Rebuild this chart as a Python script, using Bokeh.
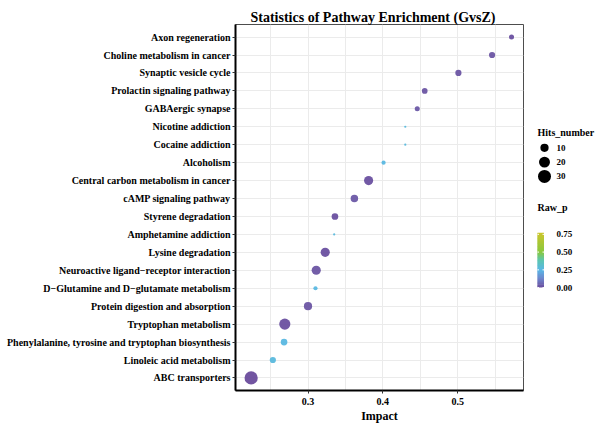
import numpy as np
from bokeh.plotting import figure
from bokeh.models import FactorRange, Range1d, FixedTicker, ColumnDataSource, LinearColorMapper
from bokeh.layouts import row
from bokeh.transform import transform
from bokeh.core.properties import value
from bokeh.embed import file_html
from bokeh.resources import INLINE

# ---------------- data (top to bottom as in the chart) ----------------
pathways = [
    "Axon regeneration",
    "Choline metabolism in cancer",
    "Synaptic vesicle cycle",
    "Prolactin signaling pathway",
    "GABAergic synapse",
    "Nicotine addiction",
    "Cocaine addiction",
    "Alcoholism",
    "Central carbon metabolism in cancer",
    "cAMP signaling pathway",
    "Styrene degradation",
    "Amphetamine addiction",
    "Lysine degradation",
    "Neuroactive ligand\u2212receptor interaction",
    "D\u2212Glutamine and D\u2212glutamate metabolism",
    "Protein digestion and absorption",
    "Tryptophan metabolism",
    "Phenylalanine, tyrosine and tryptophan biosynthesis",
    "Linoleic acid metabolism",
    "ABC transporters",
]
impact = [0.572, 0.546, 0.501, 0.456, 0.446, 0.430, 0.430, 0.401, 0.381, 0.362,
          0.336, 0.335, 0.323, 0.311, 0.310, 0.300, 0.269, 0.268, 0.253, 0.224]
hits = [3, 5, 5, 4, 3, 1, 1, 2, 13, 8,
        6, 1, 13, 13, 2, 10, 21, 6, 5, 31]
raw_p = [0.01, 0.02, 0.02, 0.02, 0.03, 0.27, 0.27, 0.26, 0.01, 0.03,
         0.01, 0.27, 0.01, 0.02, 0.26, 0.02, 0.01, 0.26, 0.27, 0.00]

x_ticks = [0.3, 0.4, 0.5]
x_minor_ticks = [0.25, 0.35, 0.45, 0.55]
hits_legend = [10, 20, 30]
p_ticks = [0.00, 0.25, 0.50, 0.75]
p_tick_labels = ["0.00", "0.25", "0.50", "0.75"]
title_text = "Statistics of Pathway Enrichment (GvsZ)"

P_LOW, P_HIGH = 0.0, 0.773
HITS_MIN, HITS_MAX = 1, 31

# ---------------- styles / layout constants ----------------
FONT = "Liberation Serif"
H = 425
FRAME_TOP, FRAME_BOTTOM = 24, 395
anchors = [(0.0, "#6A4C9C"), (0.16, "#6F86CC"), (0.32, "#5AB7E6"), (0.5, "#5CC6B0"),
           (0.645, "#88C840"), (1.0, "#CCC52C")]


def _rgb(h):
    return np.array([int(h[i:i + 2], 16) for i in (1, 3, 5)], float)


def make_palette(n=256):
    pos = np.array([a[0] for a in anchors])
    cols = np.array([_rgb(a[1]) for a in anchors])
    out = []
    for t in np.linspace(0, 1, n):
        c = [np.interp(t, pos, cols[:, k]) for k in range(3)]
        out.append("#%02x%02x%02x" % tuple(int(round(v)) for v in c))
    return out


palette = make_palette()
mapper = LinearColorMapper(palette=palette, low=P_LOW, high=P_HIGH)


def hits_to_px(h):
    h = np.asarray(h, float)
    return 2.2 * (1 + 5 * np.sqrt((h - HITS_MIN) / (HITS_MAX - HITS_MIN)))


src = ColumnDataSource(dict(pathway=pathways, impact=impact, hits=hits,
                            raw_p=raw_p, size=hits_to_px(hits)))

# ---------------- main figure ----------------
p = figure(width=524, height=H,
           y_range=FactorRange(factors=pathways[::-1], range_padding=0.2,
                               range_padding_units="absolute"),
           x_range=Range1d(0.2031, 0.588),
           output_backend="svg", toolbar_location=None,
           min_border_left=235, min_border_right=1,
           min_border_top=FRAME_TOP, min_border_bottom=H - FRAME_BOTTOM,
           title=title_text)
p.title.text_font = FONT
p.title.text_font_style = "bold"
p.title.text_font_size = "14px"
p.title.align = "left"
p.title.offset = 15
p.title.standoff = 0
p.title.text_color = "#000000"

p.background_fill_color = "white"
p.border_fill_color = "white"
p.outline_line_color = "#4D4D4D"
p.outline_line_width = 1

p.xaxis.ticker = FixedTicker(ticks=x_ticks, minor_ticks=x_minor_ticks)
p.xaxis.axis_label = "Impact"
p.xaxis.axis_label_text_font = FONT
p.xaxis.axis_label_text_font_style = "bold"
p.xaxis.axis_label_text_font_size = "12px"
p.xaxis.axis_label_text_color = "#000000"
p.xaxis.axis_label_standoff = 1
p.xaxis.major_label_text_font = FONT
p.xaxis.major_label_text_font_style = "bold"
p.xaxis.major_label_text_font_size = "10px"
p.xaxis.major_label_standoff = 3
p.xaxis.minor_tick_line_color = None

for ax in (p.xaxis, p.yaxis):
    ax.axis_line_color = "black"
    ax.axis_line_width = 2
    ax.major_tick_line_color = "#333333"
    ax.major_tick_out = 3
    ax.major_tick_in = 0
    ax.major_label_text_color = "#000000"

p.yaxis.major_label_text_font = FONT
p.yaxis.major_label_text_font_style = "bold"
p.yaxis.major_label_text_font_size = "10px"
p.yaxis.major_label_standoff = 2

p.xgrid.grid_line_color = "#EBEBEB"
p.xgrid.minor_grid_line_color = "#EBEBEB"
p.ygrid.grid_line_color = "#EBEBEB"

p.scatter(x="impact", y="pathway", size="size", source=src,
          fill_color=transform("raw_p", mapper), line_color=None, fill_alpha=0.95)

# ---------------- legend figure ----------------
lg = figure(width=76, height=H, x_range=Range1d(0, 76),
            y_range=Range1d(FRAME_BOTTOM, FRAME_TOP),
            output_backend="svg", toolbar_location=None,
            min_border_left=0, min_border_right=0,
            min_border_top=FRAME_TOP, min_border_bottom=H - FRAME_BOTTOM,
            x_axis_location=None, y_axis_location=None, outline_line_color=None)
lg.grid.visible = False
lg.background_fill_color = "white"
lg.border_fill_color = "white"

txt = dict(text_font=value(FONT), text_font_style="bold", text_baseline="middle",
           text_align="left", text_color="#000000")
lg.text(x=[13], y=[133], text=["Hits_number"], text_font_size="10px", **txt)
leg_y = [149, 163.5, 178]
lg.scatter(x=[20] * 3, y=leg_y, size=hits_to_px(hits_legend), fill_color="black",
           line_color=None)
lg.text(x=[32] * 3, y=leg_y, text=[str(h) for h in hits_legend], text_font_size="9px", **txt)

lg.text(x=[13], y=[210], text=["Raw_p"], text_font_size="10px", **txt)

# colour bar in its own value range: 0 at page y=290.7px, 72 px per unit
px_per_unit = 72.0
base_px = 290.7
lg.extra_y_ranges = {"cbar": Range1d(start=(base_px - FRAME_BOTTOM) / px_per_unit,
                                     end=(base_px - FRAME_TOP) / px_per_unit)}
steps = np.linspace(P_LOW, P_HIGH, 61)
step = steps[1] - steps[0]
cb = ColumnDataSource(dict(bottom=steps[:-1],
                           top=np.minimum(steps[1:] + 0.8 * step, P_HIGH),
                           mid=(steps[:-1] + steps[1:]) / 2))
lg.quad(left=13, right=19.5, bottom="bottom", top="top", source=cb, y_range_name="cbar",
        fill_color=transform("mid", mapper), line_color=None)
lg.segment(x0=[13] * 4, x1=[14.5] * 4, y0=p_ticks, y1=p_ticks, y_range_name="cbar",
           line_color="white", line_width=1)
lg.segment(x0=[18] * 4, x1=[19.5] * 4, y0=p_ticks, y1=p_ticks, y_range_name="cbar",
           line_color="white", line_width=1)
lg.text(x=[32] * 4, y=p_ticks, text=p_tick_labels, text_font_size="9px",
        y_range_name="cbar", **txt)

layout = row(p, lg, spacing=0)
open("out.html", "w").write(file_html(layout, INLINE))
